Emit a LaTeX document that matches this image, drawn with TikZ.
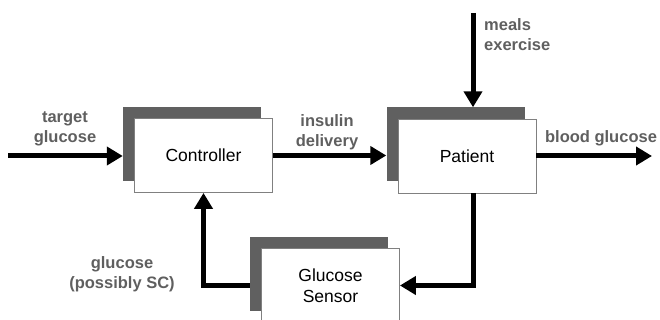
\documentclass[tikz,border=0pt]{standalone}
\usepackage{fontspec}
\setmainfont{Liberation Sans}
\usetikzlibrary{arrows.meta, calc, positioning}

\definecolor{backgray}{RGB}{96,96,96}
\definecolor{labelgray}{RGB}{95,95,95}

\tikzset{
    backbox/.style={fill=backgray, minimum width=138pt, minimum height=74pt, inner sep=0pt},
    frontbox/.style={fill=white, draw=gray, line width=0.8pt, minimum width=138pt, minimum height=74pt,
        inner sep=0pt, align=center, font=\fontsize{17.5}{21}\selectfont},
    sig/.style={line width=5pt, -{Triangle[length=16pt, width=18pt]}},
    lbl/.style={text=labelgray, align=center, inner sep=0pt, font=\bfseries\fontsize{16.5}{20}\selectfont}
}

\begin{document}
\begin{tikzpicture}[x=1pt, y=-1pt]
    \useasboundingbox (0,0) rectangle (660,320);

    % blocks, each a dark back plate with a white box in front
    \node[backbox] (ctrlback) at (192,144) {};
    \node[frontbox] (ctrl) at ([shift={(11.5pt,-11.5pt)}]ctrlback.center) {Controller};
    \node[backbox] (patback) at (455.5,144.5) {};
    \node[frontbox] (pat) at ([shift={(11.5pt,-11.5pt)}]patback.center) {Patient};
    \node[backbox] (sensback) at (319,274) {};
    \node[frontbox] (sens) at ([shift={(11.5pt,-11.5pt)}]sensback.center) {Glucose\\Sensor};

    \coordinate (tgt) at (8,156);
    \coordinate (dist) at (473,13);
    \coordinate (out) at (652,156);

    % signals
    \draw[sig] (tgt) -- (tgt -| ctrlback.west);
    \draw[sig] (ctrl.east) -- (ctrl.east -| patback.west);
    \draw[sig] (dist) -- (dist |- patback.north);
    \draw[sig] (pat.east) -- (out);
    \draw[sig] (dist |- pat.south) |- (sens.east);
    \draw[sig] (sens.west -| sensback.west) -| (ctrl.south);

    \node[lbl] (tgtlbl) at (65,129) {target\\glucose};
    \node[lbl] (inslbl) at (327,132) {insulin\\delivery};
    \node[lbl, anchor=west, align=left] (distlbl) at (484,34.5) {meals\\exercise};
    \node[lbl] (outlbl) at (601,138) {blood glucose};
    \node[lbl] (fblbl) at (122,274) {glucose\\(possibly SC)};
\end{tikzpicture}
\end{document}
